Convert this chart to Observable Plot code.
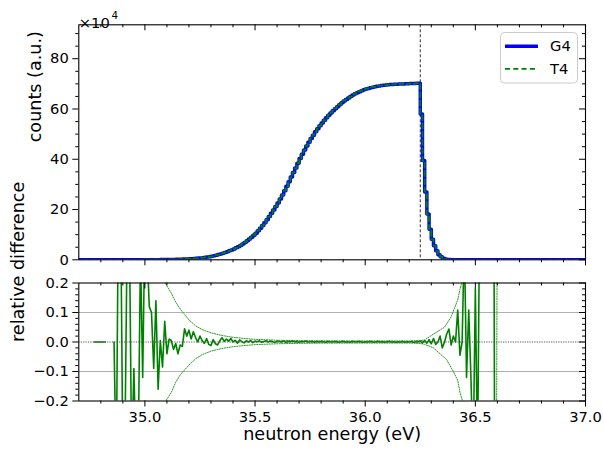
<!DOCTYPE html>
<html><head><meta charset="utf-8">
<script src="https://cdn.jsdelivr.net/npm/d3@7"></script>
<script src="https://cdn.jsdelivr.net/npm/@observablehq/plot@0.6"></script>
<style>
body{margin:0;background:#fff;}
#wrap{position:relative;width:604px;height:456px;font-family:"DejaVu Sans",sans-serif;overflow:hidden;}
#wrap > svg{position:absolute;left:0;overflow:visible;}
</style></head><body><div id="wrap"></div>
<script>
// ---------- data ----------
const seriesNames = ["G4", "T4"];
const g4Start = 34.95;          // first histogram bin (eV)
const binWidth = 0.01;          // eV
// G4 counts per bin, in units of 10^4 (34.95 ... 36.40)
const g4Counts = [
  0.01,0.01,0.01,0.02,0.02,0.02,0.03,0.03,0.04,0.04,
  0.05,0.06,0.07,0.08,0.09,0.10,0.12,0.14,0.16,0.18,
  0.20,0.23,0.27,0.31,0.35,0.40,0.46,0.52,0.59,0.67,
  0.75,0.85,0.97,1.10,1.25,1.40,1.60,1.82,2.06,2.32,
  2.60,2.90,3.22,3.56,3.92,4.30,4.75,5.22,5.73,6.30,
  6.90,7.55,8.25,9.00,9.80,10.6,11.6,12.6,13.6,14.7,
  15.9,17.2,18.5,19.8,21.2,22.6,24.2,25.8,27.5,29.3,
  31.1,32.9,34.7,36.5,38.4,40.3,42.0,43.7,45.3,46.8,
  48.3,49.6,50.9,52.1,53.3,54.4,55.5,56.5,57.5,58.4,
  59.3,60.1,60.9,61.7,62.5,63.2,63.8,64.4,65.0,65.6,
  66.1,66.5,66.9,67.3,67.7,68.0,68.2,68.5,68.7,68.9,
  69.1,69.2,69.3,69.4,69.5,69.6,69.7,69.7,69.8,69.8,
  69.9,69.9,69.9,70.0,70.0,70.1,70.1,70.1,70.2,70.2,
  58.0,39.5,27.0,18.2,12.2,8.2,5.6,3.6,2.0,1.2,
  0.6,0.3,0.15,0.07,0.03,0.01
];
const relStart = 34.76;
// relative difference (T4 - G4)/G4 per bin (34.76 ... 36.59); null = undefined
const relDiff = [
  null,0,0,0,0,0,0,null,null,null,
  0,-0.45,0.5,0.45,-0.4,-0.3,0.4,0.35,-0.4,-0.09,
  -0.4,-0.35,0.3,-0.12,0.4,0.3,0.12,0.1,-0.09,0.14,
  -0.16,0.005,-0.085,0.07,-0.04,0.01,0.005,-0.025,-0.005,-0.04,
  -0.01,-0.015,0.045,0.02,0.04,0.01,0.035,0.015,0.0,0.02,
  0.005,-0.005,0.012,-0.008,-0.012,0.008,-0.006,-0.01,0.004,0.015,
  0.002,0.01,0.003,0.012,0.0,0.006,-0.004,0.007,0.001,-0.003,
  0.004,0.0,0.005,-0.002,0.003,0.001,0.004,-0.001,0.002,0.004,
  0.0,0.003,0.001,-0.001,0.002,0.002,0.0,0.003,-0.001,0.002,
  0.001,0.003,0.0,0.002,-0.001,0.002,0.001,0.003,0.0,0.001,
  0.002,-0.001,0.002,0.0,0.002,0.001,-0.001,0.002,0.001,0.0,
  0.002,0.001,-0.001,0.001,0.002,0.0,0.001,-0.001,0.002,0.001,
  0.0,0.002,0.001,-0.001,0.001,0.0,0.002,0.001,-0.001,0.001,
  0.002,0.0,0.001,-0.001,0.001,0.002,0.0,0.001,-0.001,0.001,
  0.0,0.002,-0.001,0.001,0.0,0.002,-0.001,0.001,0.0,0.003,
  -0.003,0.005,-0.004,0.008,-0.006,0.012,-0.008,0.0,0.02,-0.02,
  0.0,0.027,0.044,-0.01,0.02,0.0,0.108,-0.045,0.0,0.35,
  -0.12,0.108,-0.12,-0.4,0.18,-0.4,0.5,0.6,0.8,1.0,
  1.2,1.5,1.5,-1.0
];
// statistical envelope (dotted), upper and lower
const envUpperE = [35.05,35.08,35.09,35.10,35.12,35.14,35.16,35.18,35.20,35.23,35.26,35.30,35.35,35.40,35.45,35.50,35.60,35.70,35.80,36.00,36.20,36.25,36.27,36.31,36.36,36.39,36.42,36.43,36.44,36.46];
const envUpperV = [0.32,0.235,0.205,0.19,0.165,0.135,0.112,0.093,0.075,0.055,0.042,0.031,0.022,0.016,0.012,0.009,0.006,0.0045,0.0038,0.0035,0.0035,0.005,0.007,0.027,0.05,0.085,0.143,0.178,0.205,0.3];
const envLowerE = [35.05,35.09,35.12,35.14,35.16,35.18,35.20,35.23,35.26,35.30,35.35,35.40,35.45,35.50,35.60,35.70,35.80,36.00,36.20,36.25,36.27,36.31,36.37,36.40,36.42,36.43,36.44,36.46,36.595,36.60];
const envLowerV = [-0.32,-0.205,-0.171,-0.136,-0.112,-0.095,-0.078,-0.057,-0.043,-0.031,-0.022,-0.016,-0.012,-0.009,-0.006,-0.0045,-0.0038,-0.0035,-0.0035,-0.005,-0.008,-0.02,-0.06,-0.1,-0.13,-0.17,-0.195,-0.3,-0.6,0.6];
const edgeEnergy = 36.25;
const xDomain = [34.7, 37.0];
const xMajor = [35.0, 35.5, 36.0, 36.5, 37.0];
const yMajorTop = [0, 20, 40, 60, 80];
const yMajorBottom = [-0.2, -0.1, 0.0, 0.1, 0.2];
const gridBottom = [-0.1, 0.1];

// ---------- build tables ----------
const key = e => Math.round(e * 100);
const relByKey = new Map(relDiff.map((v, i) => [key(relStart + i * binWidth), v]));
const bins = g4Counts.map((v, i) => ({e: +(g4Start + i * binWidth).toFixed(2), v}));
const lastEdge = +(g4Start + g4Counts.length * binWidth).toFixed(2);
const g4Series = [{e: xDomain[0], v: 0}, ...bins, {e: lastEdge, v: 0}, {e: xDomain[1], v: 0}];
const t4Series = g4Series.map(d => {
  const r = relByKey.get(key(d.e));
  return {e: d.e, v: r == null ? d.v : d.v * (1 + r)};
});
const relSeries = relDiff.map((v, i) => ({e: +(relStart + i * binWidth).toFixed(2), v}));
const envUpper = envUpperE.map((e, i) => ({e, v: envUpperV[i]}));
const envLower = envLowerE.map((e, i) => ({e, v: envLowerV[i]}));

const xMinor = d3.range(348, 371).map(d => d / 10).filter(d => !xMajor.some(m => Math.abs(m - d) < 1e-9));
const yMinorTop = d3.range(0, 95, 5).filter(d => d % 20 !== 0);
const yMinorBottom = d3.range(-20, 21, 2).map(d => d / 100).filter(d => Math.abs(Math.round(d * 100)) % 10 !== 0);

// ---------- layout ----------
const W = 604, ML = 78.3, MR = 19;
const FS = 14.7, LFS = 17.6;
const innerW = W - ML - MR;
const font = {fontFamily: "'DejaVu Sans', sans-serif", fontSize: FS + "px", color: "black", background: "white", overflow: "visible"};
const fmt1 = d3.format(".1f");
const MAJ = 6, MIN = 3;

function frameTicks(innerH, yMajor, yMinor, xText) {
  return [
    Plot.axisX(xMajor, {anchor: "bottom", tickSize: MAJ, tickPadding: 4.5, label: null, tickFormat: xText ? fmt1 : () => "", fontSize: FS}),
    Plot.axisX(xMinor, {anchor: "bottom", tickSize: MIN, label: null, tickFormat: () => ""}),
    Plot.tickX(xMajor, {x: d => d, insetBottom: innerH - MAJ, stroke: "black"}),
    Plot.tickX(xMinor, {x: d => d, insetBottom: innerH - MIN, stroke: "black"}),
    Plot.tickY(yMajor, {y: d => d, insetLeft: innerW - MAJ, stroke: "black"}),
    Plot.tickY(yMinor, {y: d => d, insetLeft: innerW - MIN, stroke: "black"}),
    Plot.frame({stroke: "black", strokeWidth: 1.1})
  ];
}

// ---------- top panel ----------
const H1 = 270, MT1 = 24.3, MB1 = 10.7;
const topPanel = Plot.plot({
  width: W, height: H1, marginLeft: ML, marginRight: MR, marginTop: MT1, marginBottom: MB1,
  style: font,
  x: {domain: xDomain},
  y: {domain: [0, 93.5]},
  marks: [
    Plot.ruleX([edgeEnergy], {stroke: "#333", strokeWidth: 1, strokeDasharray: "3,2"}),
    Plot.line(g4Series, {x: "e", y: "v", curve: "step-after", stroke: "#0000ff", strokeWidth: 3.5, clip: true}),
    Plot.line(t4Series, {x: "e", y: "v", curve: "step-after", stroke: "#008000", strokeWidth: 1.8, strokeDasharray: "5,3.3", clip: true}),
    Plot.axisY(yMajorTop, {anchor: "left", tickSize: MAJ, tickPadding: 4, label: null, tickFormat: d => String(d), fontSize: FS}),
    Plot.axisY(yMinorTop, {anchor: "left", tickSize: MIN, label: null, tickFormat: () => ""}),
    ...frameTicks(H1 - MT1 - MB1, yMajorTop, yMinorTop, false),
    Plot.text(["counts (a.u.)"], {frameAnchor: "left", dx: 35 - ML, rotate: -90, fontSize: LFS, fill: "black"}),
    Plot.text(["×10"], {frameAnchor: "top-left", dx: 0, dy: -7.6, textAnchor: "start", fontSize: FS, fill: "black"}),
    Plot.text(["4"], {frameAnchor: "top-left", dx: 32.8, dy: -12.8, textAnchor: "start", fontSize: 10.3, fill: "black"})
  ]
});
topPanel.style.top = "0px";

// ---------- bottom panel ----------
const H2 = 186, MT2 = 12.5, MB2 = 55.5;
const bottomPanel = Plot.plot({
  width: W, height: H2, marginLeft: ML, marginRight: MR, marginTop: MT2, marginBottom: MB2,
  style: font,
  x: {domain: xDomain},
  y: {domain: [-0.2, 0.2]},
  marks: [
    Plot.ruleY(gridBottom, {stroke: "#b0b0b0", strokeWidth: 1}),
    Plot.line(envUpper, {x: "e", y: "v", stroke: "#2a9a2a", strokeWidth: 1, strokeDasharray: "1.2,1.3", clip: true}),
    Plot.line(envLower, {x: "e", y: "v", stroke: "#2a9a2a", strokeWidth: 1, strokeDasharray: "1.2,1.3", clip: true}),
    Plot.line(relSeries, {x: "e", y: "v", stroke: "#008000", strokeWidth: 1.6, clip: true}),
    Plot.ruleY([0], {stroke: "#555", strokeWidth: 1, strokeDasharray: "1.2,1.2"}),
    Plot.axisY(yMajorBottom, {anchor: "left", tickSize: MAJ, tickPadding: 4, label: null, tickFormat: fmt1, fontSize: FS}),
    Plot.axisY(yMinorBottom, {anchor: "left", tickSize: MIN, label: null, tickFormat: () => ""}),
    ...frameTicks(H2 - MT2 - MB2, yMajorBottom, yMinorBottom, true),
    Plot.text(["relative difference"], {frameAnchor: "left", dx: 18.3 - ML, rotate: -90, fontSize: LFS, fill: "black"}),
    Plot.text(["neutron energy (eV)"], {frameAnchor: "bottom", dy: 39, fontSize: LFS, fill: "black"})
  ]
});
bottomPanel.style.top = H1 + "px";

const wrap = document.getElementById("wrap");
wrap.appendChild(topPanel);
wrap.appendChild(bottomPanel);

// ---------- legend ----------
const leg = d3.create("svg").attr("width", 80).attr("height", 54)
  .style("position", "absolute").style("left", "500px").style("top", "31.5px").style("overflow", "visible");
leg.append("rect").attr("x", 0.5).attr("y", 0.5).attr("width", 77).attr("height", 50.5).attr("rx", 4)
  .attr("fill", "white").attr("fill-opacity", 0.8).attr("stroke", "#cccccc");
const styles = [{stroke: "#0000ff", w: 3.5, dash: null}, {stroke: "#008000", w: 1.8, dash: "5,3.3"}];
seriesNames.forEach((name, i) => {
  const cy = 14.2 + i * 22.6;
  leg.append("line").attr("x1", 5).attr("x2", 38).attr("y1", cy).attr("y2", cy)
    .attr("stroke", styles[i].stroke).attr("stroke-width", styles[i].w).attr("stroke-dasharray", styles[i].dash);
  leg.append("text").attr("x", 50).attr("y", cy).attr("dy", "0.36em")
    .attr("font-family", "'DejaVu Sans', sans-serif").attr("font-size", FS).attr("fill", "black").text(name);
});
wrap.appendChild(leg.node());
</script></body></html>
